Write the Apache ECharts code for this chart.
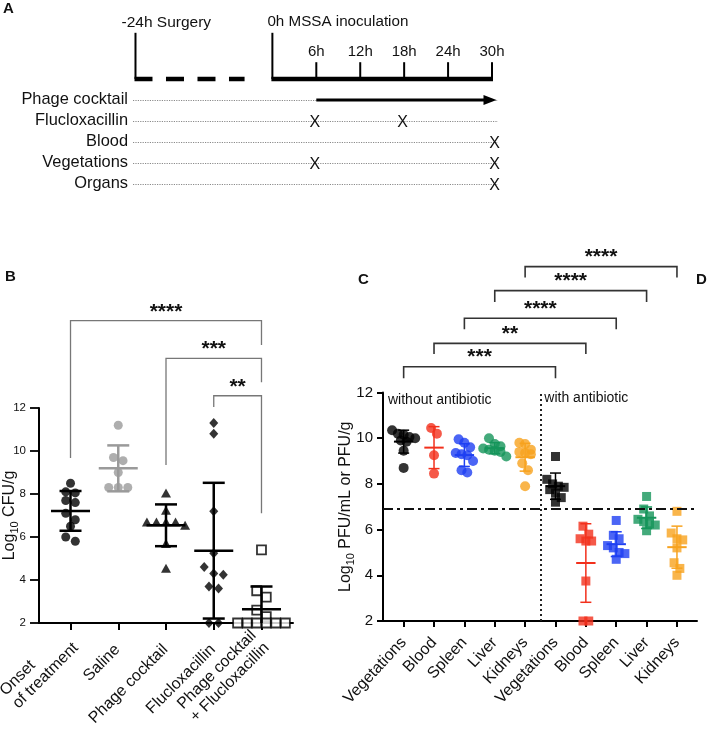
<!DOCTYPE html>
<html>
<head>
<meta charset="utf-8">
<script src="https://cdn.jsdelivr.net/npm/echarts@6/dist/echarts.min.js"></script>
<style>html,body{margin:0;padding:0;background:#fff}#c{width:709px;height:732px}</style>
</head>
<body>
<div id="c"></div>
<script>
// ================= DATA =================
// ---- Panel A : experimental timeline (hours after inoculation) ----
const timeTickHours = [6, 12, 18, 24, 30];
const timeTickLabels = ['6h', '12h', '18h', '24h', '30h'];
const timelineHeaders = ['-24h Surgery', '0h MSSA inoculation'];
const scheduleRows = ['Phage cocktail', 'Flucloxacillin', 'Blood', 'Vegetations', 'Organs'];
const phageCourse = [6, 30];
const flucloxDoses = [6, 18];
const bloodSamples = [30];
const vegetationSamples = [6, 30];
const organSamples = [30];

// ---- Panel B : log10 CFU/g in vegetations ----
const groupsB = ['Onset\nof treatment', 'Saline', 'Phage cocktail', 'Flucloxacillin', 'Phage cocktail\n+ Flucloxacillin'];
const onsetB   = [8.5, 8.1, 8.05, 7.7, 7.6, 7.1, 6.8, 6.5, 6.0, 5.8];
const salineB  = [11.2, 9.7, 9.55, 9.0, 8.3, 8.3, 8.3];
const phageB   = [8.05, 7.25, 6.7, 6.7, 6.7, 6.7, 6.55, 5.7, 4.55];
const flucloxB = [11.3, 10.8, 7.2, 5.25, 4.6, 4.3, 4.25, 3.7, 3.6, 2.0, 2.0];
const comboB   = [5.4, 3.5, 3.2, 2.6, 2.3, 2.0, 2.0, 2.0, 2.0, 2.0, 2.0];
const yTicksB  = [2, 4, 6, 8, 10, 12];
const comparisonsB = [[0, 4, '****'], [2, 4, '***'], [3, 4, '**']];

// ---- Panel C/D : log10 PFU/mL or PFU/g ----
const tissuesC = ['Vegetations', 'Blood', 'Spleen', 'Liver', 'Kidneys', 'Vegetations', 'Blood', 'Spleen', 'Liver', 'Kidneys'];
const vegNoAb     = [10.35, 10.2, 10.15, 10.05, 10.0, 9.9, 9.85, 9.45, 8.7];
const bloodNoAb   = [10.45, 10.2, 9.25, 8.45];
const spleenNoAb  = [9.95, 9.8, 9.6, 9.35, 9.3, 9.25, 9.0, 8.6, 8.5];
const liverNoAb   = [10.0, 9.75, 9.65, 9.55, 9.5, 9.45, 9.4, 9.2];
const kidneysNoAb = [9.8, 9.75, 9.5, 9.4, 9.35, 9.3, 8.9, 8.6, 7.9];
const vegAb       = [9.2, 8.2, 8.0, 7.9, 7.85, 7.75, 7.6, 7.4, 7.2];
const bloodAb     = [6.15, 5.8, 5.6, 5.5, 5.5, 3.75, 2.0, 2.0];
const spleenAb    = [6.4, 5.75, 5.6, 5.3, 5.2, 5.0, 4.95, 4.7];
const liverAb     = [7.45, 6.9, 6.6, 6.45, 6.35, 6.25, 6.2, 5.95];
const kidneysAb   = [6.8, 5.85, 5.6, 5.55, 5.2, 4.55, 4.3, 4.0];
const detectionLimitC = 6.9;
const conditionLabelsC = ['without antibiotic', 'with antibiotic'];
const comparisonsC = [[0, 5, '***'], [1, 6, '**'], [2, 7, '****'], [3, 8, '****'], [4, 9, '****']];

// ================= LAYOUT / STYLE =================
const FONT = '"Liberation Sans", Arial, Helvetica, sans-serif';
// broken pre-operative segment of the timeline (axis units, not to scale)
const preOpSpan = [-18.7, -3.8];
const rowTimeline = -1, rowTickTop = -1.8, rowTickLabel = -2.3, rowVTop = -3.2, rowHeader = -3.7;
// bracket geometry: [level, leftLegEnd, rightLegEnd] in axis units
const bracketGeomB = [[16.06, 9.67, 14.93], [14.31, 9.35, 13.2], [12.57, 12.05, 7.1]];
const bracketGeomC = [[13.13, 12.62, 12.62], [14.15, 13.69, 13.69], [15.25, 14.77, 14.77], [16.46, 15.96, 15.96], [17.51, 17.03, 17.03]];

const styleB = [
  {symbol: 'circle', size: 9, fill: '#000', line: '#000'},
  {symbol: 'circle', size: 9, fill: '#9a9a9a', line: '#9a9a9a'},
  {symbol: 'triangle', size: [10, 9], fill: '#000', line: '#000'},
  {symbol: 'diamond', size: [9, 10], fill: '#000', line: '#000'},
  {symbol: 'rect', size: 9, fill: '#fff', border: '#000', line: '#000'}
];
const colorsC = ['#000000', '#f2301c', '#1e3ff2', '#15955a', '#f7a21e'];

function stats(v) {
  const n = v.length, m = v.reduce((a, b) => a + b, 0) / n;
  const sd = Math.sqrt(v.reduce((a, b) => a + (b - m) * (b - m), 0) / (n - 1));
  return [m, sd];
}
// GraphPad-like scatter: points in value bins spread symmetrically
function swarm(vals, binSize, step) {
  const sorted = vals.map((v, i) => ({v, i})).sort((a, b) => b.v - a.v);
  const bins = [];
  sorted.forEach(p => {
    const last = bins[bins.length - 1];
    if (last && last[0].v - p.v < binSize) last.push(p); else bins.push([p]);
  });
  const offs = new Array(vals.length);
  bins.forEach(b => b.forEach((p, k) => { offs[p.i] = (k - (b.length - 1) / 2) * step; }));
  return offs;
}

function errorBarRender(colorOf, halfMean, halfCap, lwMean, lwSd, yMin) {
  return function (params, api) {
    const g = api.value(0), m = api.value(1), s = api.value(2);
    const c = colorOf(g);
    const mid = api.coord([g, m]);
    const top = api.coord([g, m + s]);
    const bot = api.coord([g, Math.max(m - s, yMin)]);
    const ch = [
      {type: 'line', shape: {x1: top[0], y1: top[1], x2: bot[0], y2: bot[1]}, style: {stroke: c, lineWidth: lwSd}},
      {type: 'line', shape: {x1: top[0] - halfCap, y1: top[1], x2: top[0] + halfCap, y2: top[1]}, style: {stroke: c, lineWidth: lwSd}},
      {type: 'line', shape: {x1: mid[0] - halfMean, y1: mid[1], x2: mid[0] + halfMean, y2: mid[1]}, style: {stroke: c, lineWidth: lwMean}}
    ];
    if (m - s > yMin) ch.push({type: 'line', shape: {x1: bot[0] - halfCap, y1: bot[1], x2: bot[0] + halfCap, y2: bot[1]}, style: {stroke: c, lineWidth: lwSd}});
    return {type: 'group', children: ch};
  };
}

function bracketRender(labels, color, lw, fontSize) {
  return function (params, api) {
    const a = api.value(0), b = api.value(1), lvl = api.value(2), l1 = api.value(3), l2 = api.value(4);
    const p1 = api.coord([a, l1]), p2 = api.coord([a, lvl]), p3 = api.coord([b, lvl]), p4 = api.coord([b, l2]);
    return {type: 'group', children: [
      {type: 'polyline', shape: {points: [p1, p2, p3, p4]}, style: {stroke: color, lineWidth: lw, fill: null}},
      {type: 'text', style: {text: labels[params.dataIndex], x: (p2[0] + p3[0]) / 2, y: p2[1] - 9,
        align: 'center', verticalAlign: 'middle', fontSize: fontSize, fontWeight: 'bold', fontFamily: FONT, fill: '#111'}}
    ]};
  };
}

function timelineRender(params, api) {
  const ch = [];
  const xMin = -19.04, xMax = 30.82;
  const C = (x, y) => api.coord([x, y]);
  const txt = (text, x, y, align, size) => ch.push({type: 'text', style: {text, x, y, align, verticalAlign: 'middle', fontSize: size, fontFamily: FONT, fill: '#111'}});
  const sx = C(preOpSpan[0], 0)[0], zx = C(0, 0)[0];
  const yT = C(0, rowTimeline)[1], yV = C(0, rowVTop)[1], yH = C(0, rowHeader)[1];
  ch.push({type: 'line', shape: {x1: sx, y1: yV, x2: sx, y2: yT}, style: {stroke: '#000', lineWidth: 2}});
  ch.push({type: 'line', shape: {x1: zx, y1: yV, x2: zx, y2: yT}, style: {stroke: '#000', lineWidth: 2}});
  txt(timelineHeaders[0], sx - 14, yH, 'left', 15.5);
  txt(timelineHeaders[1], zx - 5, yH, 'left', 15.2);
  ch.push({type: 'line', shape: {x1: sx - 1, y1: yT, x2: C(preOpSpan[1], 0)[0], y2: yT}, style: {stroke: '#000', lineWidth: 4.5, lineDash: [18, 13.5]}});
  ch.push({type: 'line', shape: {x1: zx - 1, y1: yT, x2: C(timeTickHours[timeTickHours.length - 1], 0)[0] + 1, y2: yT}, style: {stroke: '#000', lineWidth: 4.5}});
  timeTickHours.forEach((h, i) => {
    const x = C(h, 0)[0];
    ch.push({type: 'line', shape: {x1: x, y1: yT, x2: x, y2: C(0, rowTickTop)[1]}, style: {stroke: '#000', lineWidth: 2}});
    txt(timeTickLabels[i], x, C(0, rowTickLabel)[1], 'center', 15);
  });
  const xa = C(xMin, 0)[0], xb = C(xMax, 0)[0];
  scheduleRows.forEach((r, i) => {
    const y = C(0, i)[1];
    ch.push({type: 'line', shape: {x1: xa, y1: y + 0.5, x2: xb, y2: y + 0.5}, style: {stroke: '#8a8a8a', lineWidth: 1, lineDash: [1.2, 1.2]}});
    txt(r, xa - 5, y - 1, 'right', 16.4);
  });
  const ya = C(0, 0)[1];
  const x0 = C(phageCourse[0], 0)[0], x1 = C(phageCourse[1], 0)[0] + 4.5;
  ch.push({type: 'line', shape: {x1: x0, y1: ya, x2: x1 - 10, y2: ya}, style: {stroke: '#000', lineWidth: 3}});
  ch.push({type: 'polygon', shape: {points: [[x1, ya], [x1 - 13, ya - 5], [x1 - 13, ya + 5]]}, style: {fill: '#000'}});
  const marks = [[1, flucloxDoses], [2, bloodSamples], [3, vegetationSamples], [4, organSamples]];
  marks.forEach(([row, times]) => times.forEach(t => {
    const p = C(t, row);
    txt('X', p[0] + (t >= 30 ? 2.5 : -1.5), p[1] + 2, 'center', 16);
  }));
  return {type: 'group', children: ch};
}

// ================= SERIES =================
const seriesListB = [onsetB, salineB, phageB, flucloxB, comboB];
const seriesListC = [vegNoAb, bloodNoAb, spleenNoAb, liverNoAb, kidneysNoAb, vegAb, bloodAb, spleenAb, liverAb, kidneysAb];
const series = [];

series.push({type: 'custom', xAxisIndex: 0, yAxisIndex: 0, clip: false, silent: true, data: [[0, 0]], renderItem: timelineRender});

seriesListB.forEach((vals, g) => {
  const offs = swarm(vals, 0.36, 0.2);
  const st = styleB[g];
  series.push({
    type: 'scatter', xAxisIndex: 1, yAxisIndex: 1, symbol: st.symbol, symbolSize: st.size, silent: true, z: 3,
    itemStyle: st.border ? {color: st.fill, borderColor: st.border, borderWidth: 1.8} : {color: st.fill},
    data: vals.map((v, i) => [g + offs[i], v])
  });
});
series.push({
  type: 'custom', xAxisIndex: 1, yAxisIndex: 1, silent: true, z: 4, clip: false,
  data: seriesListB.map((vals, g) => [g].concat(stats(vals))),
  renderItem: errorBarRender(g => styleB[g].line, 19.5, 11, 2.5, 2.5, 2)
});
series.push({
  type: 'custom', xAxisIndex: 1, yAxisIndex: 1, silent: true, clip: false, z: 5,
  data: comparisonsB.map((c, i) => [c[0], c[1]].concat(bracketGeomB[i])),
  renderItem: bracketRender(comparisonsB.map(c => c[2]), '#777', 1.3, 21)
});

seriesListC.forEach((vals, g) => {
  const offs = swarm(vals, 0.38, 0.19);
  series.push({
    type: 'scatter', xAxisIndex: 2, yAxisIndex: 2, symbol: g < 5 ? 'circle' : 'rect', symbolSize: g < 5 ? 10 : 9,
    silent: true, z: 3, itemStyle: {color: colorsC[g % 5]},
    data: vals.map((v, i) => [g + offs[i], v]),
    markLine: g === 0 ? {
      silent: true, symbol: 'none', label: {show: false}, animation: false,
      data: [
        {yAxis: detectionLimitC, lineStyle: {color: '#111', width: 2, type: [10, 4, 3, 4]}},
        {xAxis: 4.5, lineStyle: {color: '#222', width: 2, type: [2, 3]}}
      ]
    } : undefined
  });
});
series.push({
  type: 'custom', xAxisIndex: 2, yAxisIndex: 2, silent: true, z: 4, clip: false,
  data: seriesListC.map((vals, g) => [g].concat(stats(vals))),
  renderItem: errorBarRender(g => colorsC[g % 5], 9.7, 5.5, 2, 1.5, 2)
});
series.push({
  type: 'custom', xAxisIndex: 2, yAxisIndex: 2, silent: true, clip: false, z: 5,
  data: comparisonsC.map((c, i) => [c[0], c[1]].concat(bracketGeomC[i])),
  renderItem: function (params, api) {
    const base = bracketRender(comparisonsC.map(c => c[2]), '#333', 1.6, 21)(params, api);
    if (params.dataIndex === 0) {
      const p0 = api.coord([-0.68, 12]), p1 = api.coord([4.5, 12]);
      base.children.push({type: 'text', style: {text: conditionLabelsC[0], x: p0[0] + 5, y: p0[1] + 8, align: 'left', verticalAlign: 'middle', fontSize: 14, fontFamily: FONT, fill: '#111'}});
      base.children.push({type: 'text', style: {text: conditionLabelsC[1], x: p1[0] + 4, y: p1[1] + 6, align: 'left', verticalAlign: 'middle', fontSize: 14, fontFamily: FONT, fill: '#111'}});
    }
    return base;
  }
});

const axisLineBlack = {show: true, onZero: false, lineStyle: {color: '#000', width: 2}};
// two-line labels: lines left-aligned inside a block whose width is the longest line
const labelLines = (s, i) => {
  const parts = s.split('\n');
  if (parts.length < 2) return '{c|' + s + '}';
  const key = i === 0 ? 'a' : 'b';
  return parts.map(l => '{' + key + '|' + l + '}').join('\n');
};

const option = {
  animation: false,
  backgroundColor: '#fff',
  textStyle: {fontFamily: FONT},
  grid: [
    {left: 133, top: 5.5, width: 365, height: 189, outerBoundsMode: 'none', containLabel: false},
    {left: 39, top: 408, width: 254, height: 215, outerBoundsMode: 'none', containLabel: false},
    {left: 383, top: 392.5, width: 314, height: 228.5, outerBoundsMode: 'none', containLabel: false}
  ],
  xAxis: [
    {gridIndex: 0, type: 'value', min: -19.04, max: 30.82, show: false},
    {gridIndex: 1, type: 'value', min: -0.66, max: 4.66, splitLine: {show: false},
      axisLine: axisLineBlack,
      axisTick: {show: true, customValues: [0, 1, 2, 3, 4], length: 7, lineStyle: {color: '#000', width: 2}},
      axisLabel: {customValues: [0, 1, 2, 3, 4], rotate: 45, margin: 15, fontSize: 16, color: '#111', fontFamily: FONT, hideOverlap: false,
        formatter: v => labelLines(groupsB[Math.round(v)], Math.round(v)),
        rich: {
          a: {fontSize: 16, width: 87, align: 'left', fontFamily: FONT, color: '#111', lineHeight: 18},
          b: {fontSize: 16, width: 106, align: 'left', fontFamily: FONT, color: '#111', lineHeight: 18},
          c: {fontSize: 16, fontFamily: FONT, color: '#111', lineHeight: 18, padding: [12, 7, 0, 0]}
        }}
    },
    {gridIndex: 2, type: 'value', min: -0.68, max: 9.66, splitLine: {show: false},
      axisLine: axisLineBlack,
      axisTick: {show: true, customValues: [0, 1, 2, 3, 4, 5, 6, 7, 8, 9], length: 6, lineStyle: {color: '#000', width: 2}},
      axisLabel: {customValues: [0, 1, 2, 3, 4, 5, 6, 7, 8, 9], rotate: 47, margin: 19, fontSize: 16, color: '#111', fontFamily: FONT, hideOverlap: false,
        formatter: v => tissuesC[Math.round(v)]}
    }
  ],
  yAxis: [
    {gridIndex: 0, type: 'value', min: -4.5, max: 4.5, inverse: true, show: false},
    {gridIndex: 1, type: 'value', min: yTicksB[0], max: yTicksB[yTicksB.length - 1], interval: 2, splitLine: {show: false},
      axisLine: axisLineBlack,
      axisTick: {show: true, length: 9, lineStyle: {color: '#000', width: 1.8}},
      axisLabel: {fontSize: 11.5, color: '#111', margin: 13, fontFamily: FONT},
      name: 'Log{s|10} CFU/g', nameLocation: 'middle', nameGap: 19, nameRotate: 90, nameMoveOverlap: false,
      nameTextStyle: {fontSize: 16, color: '#111', fontFamily: FONT, rich: {s: {fontSize: 11, fontFamily: FONT, color: '#111', padding: [9, 0, 0, 0]}}}
    },
    {gridIndex: 2, type: 'value', min: 2, max: 12, interval: 2, splitLine: {show: false},
      axisLine: axisLineBlack,
      axisTick: {show: true, length: 6, lineStyle: {color: '#000', width: 2}},
      axisLabel: {fontSize: 15, color: '#111', margin: 10, fontFamily: FONT},
      name: 'Log{s|10} PFU/mL or PFU/g', nameLocation: 'middle', nameGap: 27, nameRotate: 90, nameMoveOverlap: false,
      nameTextStyle: {fontSize: 16, color: '#111', fontFamily: FONT, rich: {s: {fontSize: 11, fontFamily: FONT, color: '#111', padding: [9, 0, 0, 0]}}}
    }
  ],
  graphic: [
    {type: 'text', left: 3, top: 1, style: {text: 'A', font: 'bold 15px ' + FONT, fill: '#111'}},
    {type: 'text', left: 5, top: 269, style: {text: 'B', font: 'bold 15px ' + FONT, fill: '#111'}},
    {type: 'text', left: 358, top: 272, style: {text: 'C', font: 'bold 15px ' + FONT, fill: '#111'}},
    {type: 'text', left: 696, top: 272, style: {text: 'D', font: 'bold 15px ' + FONT, fill: '#111'}}
  ],
  series: series
};

const chart = echarts.init(document.getElementById('c'), null, {renderer: 'canvas', width: 709, height: 732});
chart.setOption(option);
</script>
</body>
</html>
